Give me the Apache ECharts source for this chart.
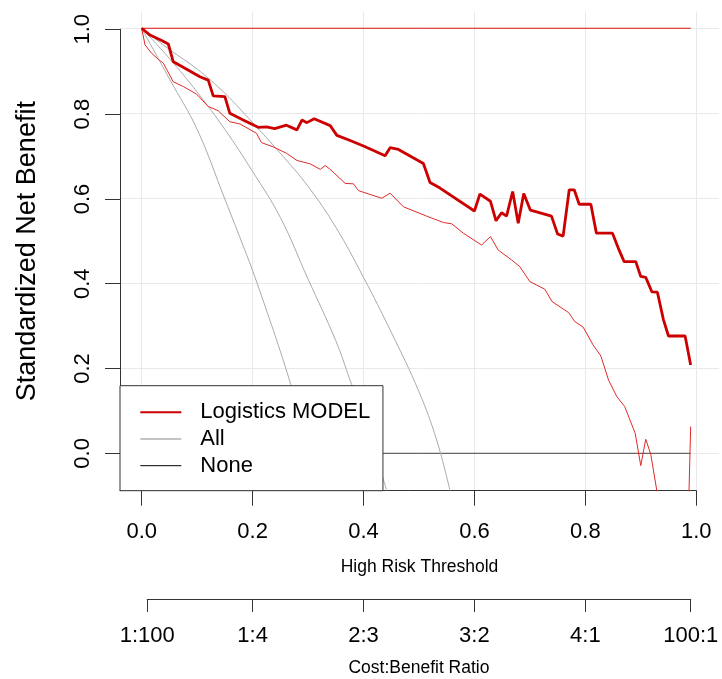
<!DOCTYPE html>
<html><head><meta charset="utf-8">
<script src="https://cdn.jsdelivr.net/npm/echarts@6/dist/echarts.min.js"></script>
<style>html,body{margin:0;padding:0;background:#fff}#c{width:722px;height:679px}</style>
</head><body><div id="c"></div>
<script>
// ---- tick labels ----
const xTickValues = [0, 0.2, 0.4, 0.6, 0.8, 1.0];
const xTickLabels = ['0.0', '0.2', '0.4', '0.6', '0.8', '1.0'];
const yTickValues = [0, 0.2, 0.4, 0.6, 0.8, 1.0];
const yTickLabels = ['0.0', '0.2', '0.4', '0.6', '0.8', '1.0'];
const cbTickValues = [0.01, 0.2, 0.4, 0.6, 0.8, 0.99];
const cbTickLabels = ['1:100', '1:4', '2:3', '3:2', '4:1', '100:1'];

// ---- Logistics MODEL (estimate) ----
const modelX = [0,0.015,0.036,0.048,0.057,0.078,0.105,0.120,0.129,0.150,0.159,0.183,0.210,0.225,0.240,0.261,0.280,0.289,0.298,0.311,0.340,0.352,0.376,0.400,0.439,0.448,0.463,0.508,0.520,0.538,0.600,0.610,0.629,0.639,0.649,0.658,0.669,0.679,0.689,0.701,0.739,0.750,0.760,0.771,0.780,0.789,0.810,0.820,0.849,0.861,0.870,0.891,0.900,0.909,0.920,0.930,0.941,0.950,0.980,0.990];
const modelY = [1.000,0.984,0.971,0.963,0.921,0.906,0.886,0.878,0.841,0.839,0.800,0.784,0.767,0.768,0.764,0.772,0.761,0.784,0.778,0.787,0.771,0.748,0.736,0.723,0.700,0.719,0.715,0.682,0.637,0.624,0.570,0.610,0.593,0.547,0.566,0.558,0.616,0.541,0.611,0.572,0.558,0.516,0.511,0.620,0.620,0.586,0.586,0.518,0.518,0.478,0.451,0.451,0.416,0.414,0.380,0.379,0.314,0.276,0.276,0.208];

// ---- Logistics MODEL confidence bounds ----
const ciLowX = [0,0.006,0.018,0.030,0.039,0.057,0.075,0.099,0.120,0.138,0.159,0.177,0.207,0.216,0.237,0.261,0.280,0.304,0.322,0.331,0.340,0.367,0.382,0.391,0.433,0.448,0.472,0.514,0.544,0.559,0.580,0.613,0.629,0.643,0.667,0.682,0.700,0.712,0.727,0.740,0.770,0.781,0.796,0.814,0.828,0.842,0.857,0.871,0.890,0.900,0.909,0.918,0.929,0.950,0.975,0.990];
const ciLowY = [1.000,0.961,0.941,0.927,0.918,0.874,0.863,0.845,0.816,0.806,0.780,0.775,0.753,0.731,0.721,0.706,0.689,0.681,0.668,0.677,0.668,0.635,0.634,0.618,0.600,0.612,0.580,0.558,0.543,0.540,0.518,0.490,0.510,0.478,0.455,0.439,0.404,0.396,0.386,0.357,0.331,0.310,0.297,0.255,0.229,0.172,0.133,0.110,0.047,-0.029,0.033,-0.002,-0.088,-0.350,-0.700,0.063];
const ciUpX = [0, 0.99];
const ciUpY = [1, 1];

// ---- All (estimate and bounds) ----
const allX = [0,0.05,0.10,0.15,0.20,0.25,0.30,0.35,0.375,0.40,0.42,0.442];
const allY = [1.000,0.929,0.850,0.762,0.663,0.555,0.410,0.265,0.175,0.085,0.005,-0.088];
const allLowX = [0,0.05,0.10,0.15,0.186,0.20,0.231,0.255,0.269,0.29,0.31,0.325];
const allLowY = [1.000,0.881,0.762,0.598,0.478,0.430,0.314,0.220,0.161,0.070,-0.020,-0.088];
const allUpX = [0,0.05,0.10,0.15,0.20,0.25,0.30,0.35,0.40,0.45,0.50,0.532,0.556];
const allUpY = [1.000,0.950,0.904,0.847,0.778,0.706,0.628,0.532,0.414,0.285,0.145,0.031,-0.088];

// ---- None ----
const noneX = [0, 0.99];
const noneY = [0, 0];

const FONT = '"Liberation Sans", Arial, sans-serif';
const zip = (xs, ys) => xs.map((x, i) => [x, ys[i]]);
const pick = (vals, labs) => v => { const i = vals.findIndex(t => Math.abs(t - v) < 1e-9); return i >= 0 ? labs[i] : ''; };
const X_MIN = -0.0391, X_MAX = 1.0411, Y_MIN = -0.088, Y_MAX = 1.039;
const AXIS = '#333';

const lineSeries = (name, xs, ys, color, width, z, smooth) => ({
  name, type: 'line', xAxisIndex: 0, yAxisIndex: 0, data: zip(xs, ys),
  symbol: 'none', clip: true, silent: true, smooth: smooth || false, z,
  lineStyle: { color, width }, itemStyle: { color }
});

const chart = echarts.init(document.getElementById('c'), null, { renderer: 'canvas' });
chart.setOption({
  animation: false,
  backgroundColor: '#fff',
  grid: [
    { left: 120, right: 3, top: 11.7, bottom: 188.3 },
    { left: 120, right: 25.7, top: 29.3, bottom: 188.3 },
    { left: 147.2, right: 31.3, top: 598, bottom: 80 }
  ],
  xAxis: [
    { gridIndex: 0, type: 'value', min: X_MIN, max: X_MAX,
      axisLine: { show: false }, axisTick: { show: false, customValues: xTickValues },
      axisLabel: { show: false, customValues: xTickValues },
      splitLine: { show: true, lineStyle: { color: '#e9e9e9', width: 1 } },
      name: 'High Risk Threshold', nameLocation: 'middle', nameGap: 67,
      nameTextStyle: { fontFamily: FONT, fontSize: 17.5, color: '#000' } },
    { gridIndex: 1, type: 'value', min: X_MIN, max: 1,
      axisLine: { show: true, onZero: false, lineStyle: { color: AXIS, width: 1 } },
      axisTick: { show: true, customValues: xTickValues, length: 15, lineStyle: { color: AXIS, width: 1 } },
      axisLabel: { show: true, customValues: xTickValues, margin: 30, formatter: pick(xTickValues, xTickLabels),
        fontFamily: FONT, fontSize: 22, color: '#000' },
      splitLine: { show: false } },
    { gridIndex: 2, type: 'value', min: 0.01, max: 0.99,
      axisLine: { show: true, onZero: false, lineStyle: { color: AXIS, width: 1 } },
      axisTick: { show: true, customValues: cbTickValues, length: 13, lineStyle: { color: AXIS, width: 1 } },
      axisLabel: { show: true, customValues: cbTickValues, margin: 26, formatter: pick(cbTickValues, cbTickLabels),
        fontFamily: FONT, fontSize: 22, color: '#000', showMinLabel: true, showMaxLabel: true },
      splitLine: { show: false },
      name: 'Cost:Benefit Ratio', nameLocation: 'middle', nameGap: 60,
      nameTextStyle: { fontFamily: FONT, fontSize: 17.5, color: '#000' } }
  ],
  yAxis: [
    { gridIndex: 0, type: 'value', min: Y_MIN, max: Y_MAX,
      axisLine: { show: false }, axisTick: { show: false, customValues: yTickValues },
      axisLabel: { show: false, customValues: yTickValues },
      splitLine: { show: true, lineStyle: { color: '#e9e9e9', width: 1 } },
      name: 'Standardized Net Benefit', nameLocation: 'middle', nameGap: 79,
      nameTextStyle: { fontFamily: FONT, fontSize: 27, color: '#000' } },
    { gridIndex: 1, type: 'value', min: Y_MIN, max: 1,
      axisLine: { show: true, onZero: false, lineStyle: { color: AXIS, width: 1 } },
      axisTick: { show: true, customValues: yTickValues, length: 15, lineStyle: { color: AXIS, width: 1 } },
      axisLabel: { show: true, customValues: yTickValues, rotate: 90, margin: 26, formatter: pick(yTickValues, yTickLabels),
        fontFamily: FONT, fontSize: 22, color: '#000' },
      splitLine: { show: false } },
    { gridIndex: 2, type: 'value', min: 0, max: 1, show: false }
  ],
  legend: {
    left: 120, top: 385.7, orient: 'vertical', selectedMode: false,
    backgroundColor: '#fff', borderColor: AXIS, borderWidth: 1, borderRadius: 0,
    padding: [15.6, 12.7, 14, 19.3],
    itemWidth: 41, itemHeight: 14, itemGap: 4.7,
    itemStyle: { opacity: 0, borderWidth: 0 },
    textStyle: { fontFamily: FONT, fontSize: 22, lineHeight: 22, color: '#000', padding: [0, 0, 0, 14] },
    data: [
      { name: 'Logistics MODEL', itemStyle: { opacity: 0, borderWidth: 0 } },
      { name: 'All', lineStyle: { color: '#c4c4c4', width: 2 }, itemStyle: { opacity: 0, borderWidth: 0 } },
      { name: 'None', lineStyle: { color: '#000', width: 1 }, itemStyle: { opacity: 0, borderWidth: 0 } }
    ]
  },
  series: [
    lineSeries('None', noneX, noneY, '#444', 1, 2),
    lineSeries('All lower', allLowX, allLowY, '#aaaaaa', 1, 2, 0.4),
    lineSeries('All', allX, allY, '#aaaaaa', 1, 2, 0.4),
    lineSeries('All upper', allUpX, allUpY, '#aaaaaa', 1, 2, 0.4),
    lineSeries('Model CI lower', ciLowX, ciLowY, '#e02a2a', 1, 3),
    lineSeries('Model CI upper', ciUpX, ciUpY, '#e01010', 1, 3),
    lineSeries('Logistics MODEL', modelX, modelY, '#cc0000', 2.8, 4)
  ]
});
</script></body></html>
